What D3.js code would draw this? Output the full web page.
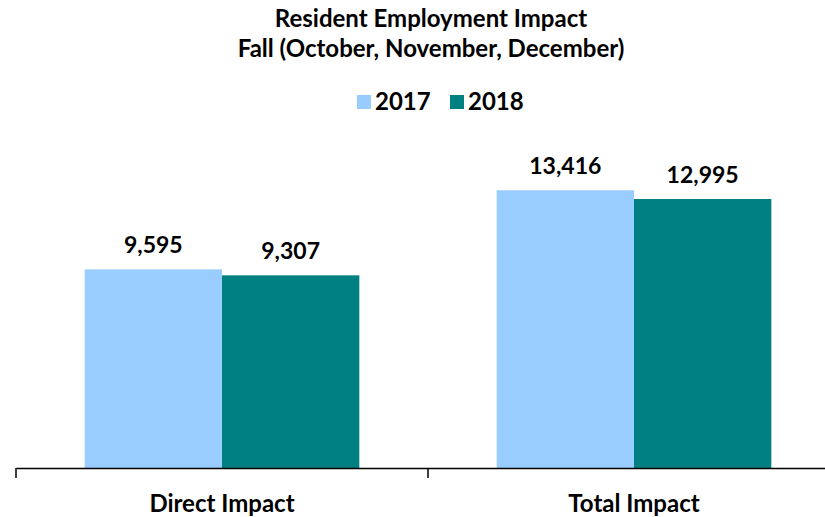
<!DOCTYPE html>
<meta charset="utf-8">
<script src="https://d3js.org/d3.v7.min.js"></script>
<style>
body { margin: 0; background: #fff; }
text { font-family: Lato, "Open Sans", sans-serif; font-weight: bold; fill: #000; }
</style>
<div id="chart"></div>
<script>

// data
var categories = ["Direct Impact", "Total Impact"];
var years = ["2017", "2018"];
var values2017 = [9595, 13416];
var values2018 = [9307, 12995];
var colors = ["#99ccff", "#008080"];

var width = 825, height = 517;
var baseY = 468;

var svg = d3.select("#chart").append("svg")
  .attr("width", width)
  .attr("height", height);

// title
svg.append("text")
  .attr("x", 431).attr("y", 27)
  .attr("text-anchor", "middle")
  .style("font-size", "24px")
  .text("Resident Employment Impact");
svg.append("text")
  .attr("x", 431).attr("y", 57)
  .attr("text-anchor", "middle")
  .style("font-size", "24px")
  .text("Fall (October, November, December)");

// scales
var x0 = d3.scaleBand()
  .domain(categories)
  .range([16, 840])
  .paddingInner(0)
  .paddingOuter(0);

var x1 = d3.scaleBand()
  .domain(years)
  .range([0, x0.bandwidth()])
  .paddingInner(0)
  .paddingOuter(0.5);

var y = d3.scaleLinear()
  .domain([0, 16000])
  .range([baseY, baseY - 16000 * 0.0207]);

var rows = categories.map(function(c, i) {
  return {cat: c, vals: [
    {year: years[0], v: values2017[i]},
    {year: years[1], v: values2018[i]}
  ]};
});

var groups = svg.selectAll(".grp")
  .data(rows)
  .enter().append("g")
  .attr("class", "grp")
  .attr("transform", function(d) { return "translate(" + x0(d.cat) + ",0)"; });

groups.selectAll("rect")
  .data(function(d) { return d.vals; })
  .enter().append("rect")
  .attr("x", function(d) { return x1(d.year); })
  .attr("y", function(d) { return y(d.v); })
  .attr("width", x1.bandwidth())
  .attr("height", function(d) { return baseY - y(d.v); })
  .attr("fill", function(d, i) { return colors[i]; });

groups.selectAll(".val")
  .data(function(d) { return d.vals; })
  .enter().append("text")
  .attr("class", "val")
  .attr("x", function(d) { return x1(d.year) + x1.bandwidth() / 2; })
  .attr("y", function(d) { return y(d.v) - 16; })
  .attr("text-anchor", "middle")
  .style("font-size", "23px")
  .text(function(d) { return d3.format(",")(d.v); });

// x axis
var axis = svg.append("g")
  .attr("transform", "translate(0," + baseY + ")")
  .call(d3.axisBottom(x0).tickSize(0).tickSizeOuter(0).tickPadding(27));
axis.select(".domain").attr("stroke", "#000").attr("stroke-width", 1.5);
axis.selectAll("text")
  .style("font-size", "24px")
  .style("font-family", "Lato, 'Open Sans', sans-serif")
  .style("font-weight", "bold");

// category separators
var seps = [x0.range()[0], x0(categories[1])];
svg.selectAll(".sep")
  .data(seps)
  .enter().append("line")
  .attr("x1", function(d) { return d; })
  .attr("x2", function(d) { return d; })
  .attr("y1", baseY)
  .attr("y2", baseY + 10)
  .attr("stroke", "#000")
  .attr("stroke-width", 1.5);

// legend
var legendX = [357, 450];
var legend = svg.selectAll(".leg")
  .data(years)
  .enter().append("g")
  .attr("transform", function(d, i) { return "translate(" + legendX[i] + ",95)"; });
legend.append("rect")
  .attr("width", 14).attr("height", 14)
  .attr("fill", function(d, i) { return colors[i]; });
legend.append("text")
  .attr("x", 18).attr("y", 15)
  .style("font-size", "24px")
  .text(function(d) { return d; });

</script>
